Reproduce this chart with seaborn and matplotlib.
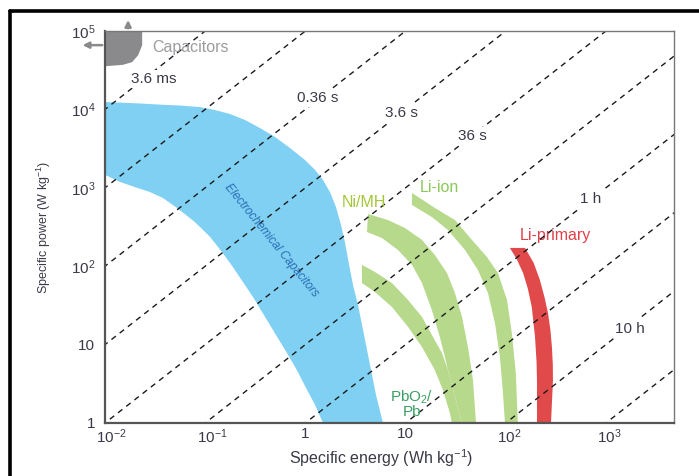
import matplotlib
matplotlib.use("Agg")
import matplotlib.pyplot as plt
import seaborn as sns
import numpy as np
import pandas as pd
from matplotlib.lines import Line2D
from matplotlib.ticker import FixedLocator, LogLocator, NullFormatter
from matplotlib.transforms import ScaledTranslation

# constant-discharge-time lines (hours)
line_hours = [1e-6, 1e-5, 1e-4, 1e-3, 1e-2, 1e-1, 1, 10, 100, 1000]

time_labels = ['3.6 ms', '0.36 s', '3.6 s', '36 s', '1 h', '10 h']
time_lab_E = [0.031, 1.34, 9.1, 46, 710, 1740]
time_lab_P = [24500, 14000, 9000, 4600, 720, 16]

# regions (specific energy Wh/kg, specific power W/kg)
cap_E = [0.01, 0.0235, 0.0235, 0.0214, 0.0186, 0.015, 0.01]
cap_P = [1e5, 1e5, 66000, 49000, 40000, 37000, 35500]

ec_E = [0.01, 0.0141, 0.0223, 0.0354, 0.0561, 0.0888, 0.125, 0.177, 0.250, 0.352, 0.498,
        0.702, 0.991, 1.25, 1.50, 1.76, 2.02, 2.27, 2.49, 2.73, 2.99, 3.35, 3.85, 4.42,
        5.07, 5.95,
        1.50, 1.25, 1.04, 0.822, 0.655, 0.443, 0.30, 0.238, 0.189, 0.147, 0.112, 0.079,
        0.0524, 0.0379, 0.0281, 0.0199, 0.0141, 0.01]
ec_P = [12400, 12200, 11900, 11500, 11200, 10700, 9820, 8730, 7320, 5790, 4450,
        3220, 2260, 1690, 1260, 884, 569, 335, 198, 104, 57.6, 32.0, 13.3, 5.49,
        2.28, 1,
        1, 1.70, 2.64, 4.74, 7.81, 17.8, 40.5, 62.9, 97.7, 152, 236, 366,
        553, 741, 884, 1020, 1190, 1460]

nimh_E = [4.22, 6.67, 9.86, 14.6, 19.6, 25.9, 31.1, 36.6, 42.0, 47.1, 50.5, 36.6,
          26.5, 24.7, 22.0, 18.3, 14.6, 11.6, 8.4, 5.81, 4.12]
nimh_P = [463, 388, 307, 216, 139, 81.9, 45.5, 22.5, 9.3, 3.54, 1, 1,
          4.74, 6.95, 12.5, 27.6, 61, 104, 161, 229, 273]

pbo2_E = [3.67, 4.95, 7.31, 10.6, 14.6, 18.8, 23.1, 26.5, 36.6, 29.0, 27.7, 23.6,
          19.6, 14.6, 10.6, 7.31, 4.95, 3.67]
pbo2_P = [104, 84.4, 61, 37, 22.5, 12.5, 7.81, 4.74, 1, 1, 1.34, 2.64,
          4.74, 9.3, 16.8, 30.2, 46.9, 61]

liion_E = [11.6, 19.6, 31.1, 46.0, 64.9, 83.6, 103, 115, 126, 132,
           98.2, 93.8, 87.5, 78.0, 66.4, 52.8, 39.2, 26.5, 18.3, 11.6]
liion_P = [859, 553, 388, 216, 131, 81.9, 37, 14.1, 4.34, 1,
           1, 2.41, 6.95, 18.9, 45.5, 89.5, 161, 290, 424, 604]

lip_E = [110, 156, 190, 219, 244, 264, 279, 289, 295, 296, 283,
         205, 205, 205, 203, 196, 182, 166, 149, 128]
lip_P = [171, 171, 110, 67, 40, 25.3, 15.5, 9.3, 5.6, 3.5, 1,
         1, 2.0, 3.5, 6.0, 12.5, 30, 52, 82, 125]

x_ticks = [1e-2, 1e-1, 1, 10, 1e2, 1e3]
x_ticklabels = ['10$^{-2}$', '10$^{-1}$', '1', '10', '10$^{2}$', '10$^{3}$']
y_ticks = [1, 10, 1e2, 1e3, 1e4, 1e5]
y_ticklabels = ['1', '10', '10$^{2}$', '10$^{3}$', '10$^{4}$', '10$^{5}$']

sns.set_style("white")
plt.rcParams['font.family'] = ['Liberation Sans', 'DejaVu Sans']
plt.rcParams['mathtext.fontset'] = 'custom'
plt.rcParams['mathtext.rm'] = 'Liberation Sans'
plt.rcParams['mathtext.it'] = 'Liberation Sans:italic'

W, H = 699, 476
fig = plt.figure(figsize=(W / 100, H / 100), dpi=100)
ax = fig.add_axes([105 / W, 1 - 423 / H, (674 - 105) / W, (423 - 31) / H])
ax.set_xscale('log')
ax.set_yscale('log')

txtcol = '#3a3a48'
green = '#b6d98c'

# filled regions
ax.fill(ec_E, ec_P, color='#7fd0f2', lw=0, zorder=1)
ax.fill(nimh_E, nimh_P, color=green, lw=0, zorder=1)
ax.fill(pbo2_E, pbo2_P, color=green, lw=0, zorder=1)
ax.fill(liion_E, liion_P, color=green, lw=0, zorder=1)
ax.fill(lip_E, lip_P, color='#e14a4a', lw=0, zorder=1)
ax.fill(cap_E, cap_P, color='#8a8a8c', lw=0, zorder=1, clip_on=False)

# dashed constant-time lines
rows = []
for t in line_hours:
    for e in [1e-3, 1e5]:
        rows.append({'t': t, 'E': e, 'P': e / t})
df = pd.DataFrame(rows)
sns.lineplot(data=df, x='E', y='P', units='t', estimator=None, color='#1a1a1a',
             lw=1.0, linestyle=(0, (4, 3.5)), ax=ax, zorder=2)

for lab, e, p in zip(time_labels, time_lab_E, time_lab_P):
    ax.text(e, p, lab, ha='center', va='center', fontsize=11, color=txtcol, zorder=4,
            bbox=dict(facecolor='white', edgecolor='none', pad=1.5))

ax.text(0.072, 61000, 'Capacitors', ha='center', va='center', fontsize=11.5, color='#9c9ca0', zorder=4)
ax.text(3.85, 640, 'Ni/MH', ha='center', va='center', fontsize=11.5, color='#a4c63a', zorder=4)
ax.text(22, 1020, 'Li-ion', ha='center', va='center', fontsize=11.5, color='#8cc85a', zorder=4)
ax.text(310, 243, 'Li-primary', ha='center', va='center', fontsize=11.5, color='#e0404a', zorder=1.5)
ax.text(11.5, 1.75, 'PbO$_2$/\nPb', ha='center', va='center', fontsize=11, color='#3a9e62',
        linespacing=0.85, zorder=4)
ax.text(0.46, 215, 'Electrochemical Capacitors', ha='center', va='center', fontsize=8.5,
        rotation=-51, color='#2a6db5', style='italic', zorder=4)

# arrows at the capacitor corner
ax.annotate('', xy=(0.017, 1.5e5), xytext=(0.017, 1e5), annotation_clip=False,
            arrowprops=dict(arrowstyle='-|>', color='#8a8a8c', lw=1.8, mutation_scale=9))
ax.annotate('', xy=(0.0056, 66000), xytext=(0.01, 66000), annotation_clip=False,
            arrowprops=dict(arrowstyle='-|>', color='#8a8a8c', lw=1.8, mutation_scale=9))

ax.set_xlim(0.01, 4780)
ax.set_ylim(1, 1e5)

ax.xaxis.set_major_locator(FixedLocator(x_ticks))
ax.set_xticklabels(x_ticklabels)
ax.yaxis.set_major_locator(FixedLocator(y_ticks))
ax.set_yticklabels(y_ticklabels)
ax.xaxis.set_minor_locator(LogLocator(base=10, subs=np.arange(2, 10)))
ax.yaxis.set_minor_locator(LogLocator(base=10, subs=np.arange(2, 10)))
ax.xaxis.set_minor_formatter(NullFormatter())
ax.yaxis.set_minor_formatter(NullFormatter())
ax.tick_params(which='major', direction='in', length=8, width=1.1, color='#555555',
               labelsize=11, labelcolor=txtcol, top=False, right=False)
ax.tick_params(axis='y', which='major', pad=7)
ax.tick_params(axis='x', which='major', pad=3)
ax.tick_params(which='minor', direction='in', length=4, width=0.9, color='#555555',
               top=False, right=False)

# power-of-ten labels: keep the "10" centred on the tick
shift = ScaledTranslation(-0.085, 0, fig.dpi_scale_trans)
for lbl in ax.get_xticklabels():
    if '^' in lbl.get_text():
        lbl.set_horizontalalignment('left')
        lbl.set_transform(lbl.get_transform() + shift)

ax.set_xlabel('Specific energy (Wh kg$^{-1}$)', fontsize=11.5, color=txtcol)
ax.xaxis.set_label_coords(0.485, -0.062)
ax.set_ylabel('Specific power (W kg$^{-1}$)', fontsize=9, color=txtcol)
ax.yaxis.set_label_coords(-0.092, 0.5)

for s in ['left', 'bottom']:
    ax.spines[s].set_color('#555555')
    ax.spines[s].set_linewidth(1.6)
for s in ['top', 'right']:
    ax.spines[s].set_color('#777777')
    ax.spines[s].set_linewidth(1.0)
ax.grid(False)

# outer black frame (only left and top edges fall inside the image)
fy = 1 - 11 / H
fx = 9.5 / W
fig.add_artist(Line2D([fx, fx], [0, fy], transform=fig.transFigure, color='black', lw=2.6))
fig.add_artist(Line2D([fx, 1], [fy, fy], transform=fig.transFigure, color='black', lw=2.6))

fig.savefig('out.png', dpi=100, facecolor='white')
